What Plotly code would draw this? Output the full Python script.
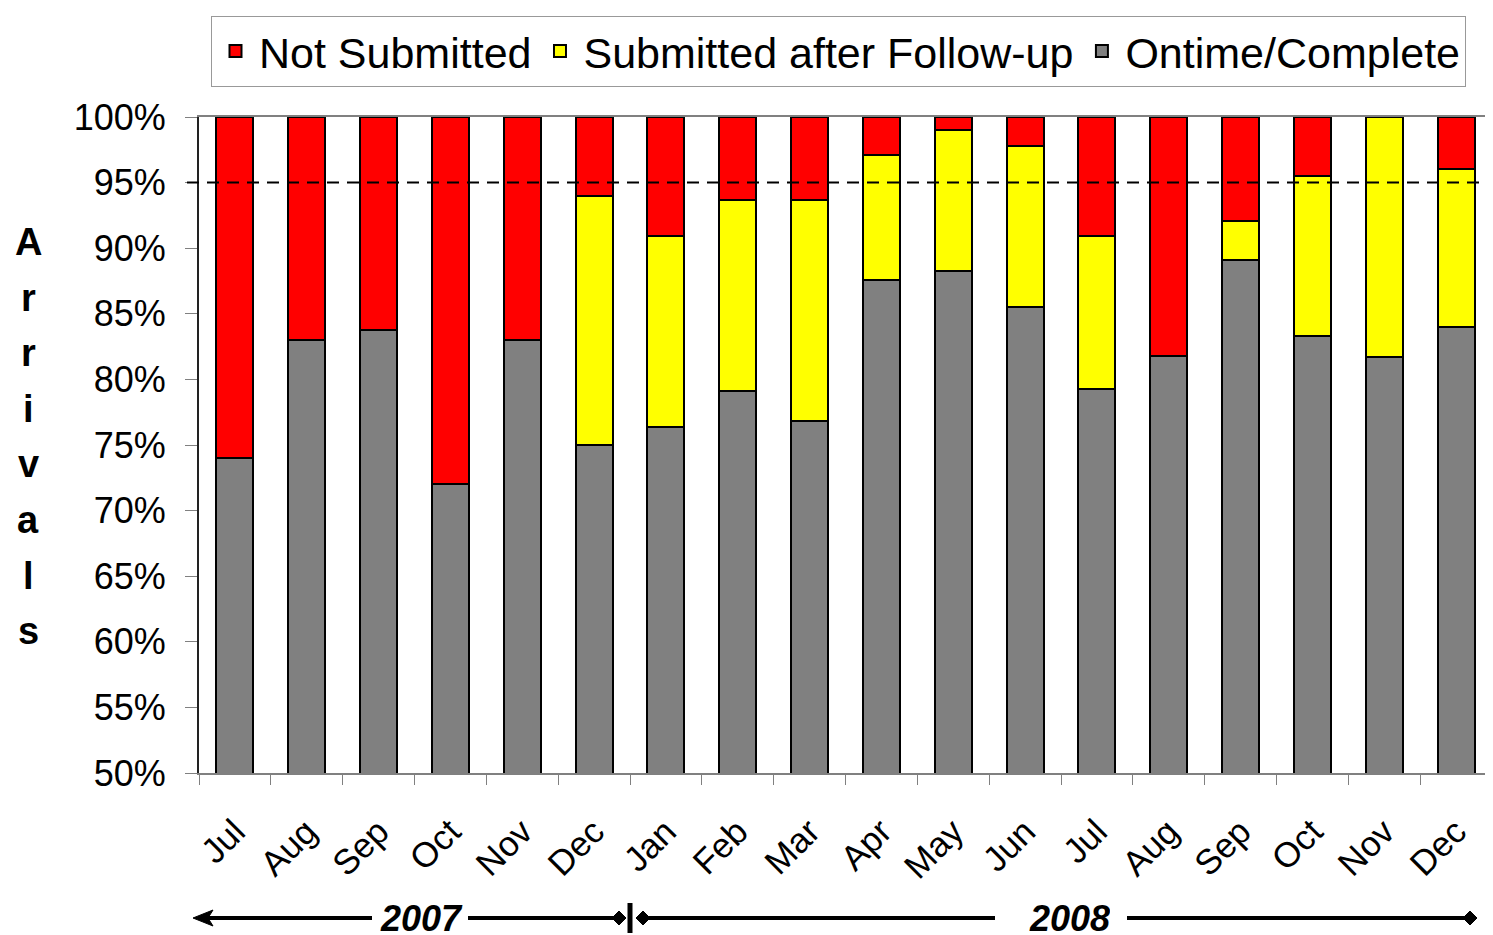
import plotly.graph_objects as go

# Monthly arrival report shares (percent of arrivals)
months = ["Jul", "Aug", "Sep", "Oct", "Nov", "Dec",
          "Jan", "Feb", "Mar", "Apr", "May", "Jun",
          "Jul", "Aug", "Sep", "Oct", "Nov", "Dec"]
ontime_complete = [74.0, 83.0, 83.8, 72.0, 83.0, 75.0,
                   76.4, 79.1, 76.8, 87.6, 88.3, 85.5,
                   79.3, 81.8, 89.1, 83.3, 81.7, 84.0]
after_follow_up = [0.0, 0.0, 0.0, 0.0, 0.0, 19.0,
                   14.5, 14.6, 16.9, 9.5, 10.7, 12.3,
                   11.6, 0.0, 3.0, 12.2, 18.3, 12.0]
not_submitted = [26.0, 17.0, 16.2, 28.0, 17.0, 6.0,
                 9.1, 6.3, 6.3, 2.9, 1.0, 2.2,
                 9.1, 18.2, 7.9, 4.5, 0.0, 4.0]
target = 95
y_ticks = list(range(50, 101, 5))
y_tick_text = [f"{v}%" for v in y_ticks]

# the page body adds an 8px margin, so the figure is 8px smaller and
# all pixel positions below are page positions
PAGE_OFF = 8
W, H = 1493 - PAGE_OFF, 935 - PAGE_OFF
PLOT_X0, PLOT_X1, PLOT_Y0, PLOT_Y1 = 199, 1492, 117, 773
L, T = PLOT_X0 - PAGE_OFF, PLOT_Y0 - PAGE_OFF
R = W - (PLOT_X1 - PAGE_OFF)
B = H - (PLOT_Y1 - PAGE_OFF)


def px_x(p):
    return (p - PLOT_X0) / (PLOT_X1 - PLOT_X0)


def px_y(p):
    return (PLOT_Y1 - p) / (PLOT_Y1 - PLOT_Y0)


x = list(range(len(months)))
line = dict(color="black", width=2)

fig = go.Figure()
fig.add_trace(go.Bar(x=x, y=ontime_complete, name="Ontime/Complete",
                     marker=dict(color="#808080", line=line)))
fig.add_trace(go.Bar(x=x, y=after_follow_up, name="Submitted after Follow-up",
                     marker=dict(color="#FFFF00", line=line)))
fig.add_trace(go.Bar(x=x, y=not_submitted, name="Not Submitted",
                     marker=dict(color="#FF0000", line=line)))

# 95% target line
fig.add_shape(type="line", xref="paper", yref="y", x0=px_x(187), x1=1,
              y0=target, y1=target, line=dict(color="black", width=2, dash="12px,8px"))

# stacked-letter axis title
for i, ch in enumerate("Arrivals"):
    fig.add_annotation(text=ch, xref="paper", yref="paper", x=px_x(28),
                       y=px_y(242 + i * 55.6), xanchor="center", yanchor="middle",
                       showarrow=False,
                       font=dict(size=38, color="black", family="Liberation Sans, Arial", weight="bold"))

# year band under the month labels
yb = px_y(918)
band = dict(color="black", width=4)
for x0, x1 in [(200, 372), (468, 615), (648, 995), (1127, 1468)]:
    fig.add_shape(type="line", xref="paper", yref="paper", x0=px_x(x0), x1=px_x(x1),
                  y0=yb, y1=yb, line=band)
fig.add_shape(type="line", xref="paper", yref="paper", x0=px_x(630), x1=px_x(630),
              y0=px_y(903), y1=px_y(933), line=dict(color="black", width=5))
for cx in [619, 643, 1470]:
    fig.add_shape(type="path", xref="paper", yref="paper", xsizemode="pixel",
                  ysizemode="pixel", xanchor=px_x(cx), yanchor=yb,
                  path="M -7 0 L 0 7 L 7 0 L 0 -7 Z",
                  fillcolor="black", line=dict(color="black", width=1))
fig.add_shape(type="path", xref="paper", yref="paper", xsizemode="pixel",
              ysizemode="pixel", xanchor=px_x(193), yanchor=yb,
              path="M 0 0 L 20 8 L 15 0 L 20 -8 Z",
              fillcolor="black", line=dict(color="black", width=1))
for label, cx in [("2007", 421), ("2008", 1069)]:
    fig.add_annotation(text=label, xref="paper", yref="paper", x=px_x(cx), y=yb,
                       showarrow=False, xanchor="center", yanchor="middle",
                       height=34, valign="middle",
                       font=dict(size=36, color="black", family="Liberation Sans, Arial",
                                 weight="bold", style="italic"))

fig.update_layout(
    width=W, height=H,
    margin=dict(l=L, r=R, t=T, b=B),
    barmode="stack",
    bargap=0.485,
    plot_bgcolor="white",
    paper_bgcolor="white",
    font=dict(family="Liberation Sans, Arial", color="black"),
    showlegend=True,
    legend=dict(orientation="h", traceorder="reversed",
                x=px_x(211), y=px_y(51), xanchor="left", yanchor="middle",
                font=dict(size=43), bordercolor="#999999", borderwidth=1,
                itemwidth=37),
)
fig.update_xaxes(
    range=[-0.5, len(months) - 0.5], automargin=False,
    tickmode="array", tickvals=x, ticktext=months,
    tickangle=-45, ticks="", ticklabelstandoff=22,
    tickfont=dict(size=35),
    showline=True, linecolor="#808080", linewidth=2, mirror=True,
    showgrid=False, zeroline=False,
    minor=dict(tickmode="array", tickvals=[i - 0.5 for i in range(len(months) + 1)],
               ticks="outside", ticklen=10, tickcolor="#808080", tickwidth=1,
               showgrid=False),
)
fig.update_yaxes(
    range=[50, 100], automargin=False,
    tickmode="array", tickvals=y_ticks, ticktext=y_tick_text,
    ticks="outside", ticklen=12, tickcolor="#808080", tickwidth=1,
    ticklabelstandoff=12,
    tickfont=dict(size=36),
    showline=True, linecolor="#222222", linewidth=2,
    showgrid=False, zeroline=False,
)

fig.write_html("out.html")
